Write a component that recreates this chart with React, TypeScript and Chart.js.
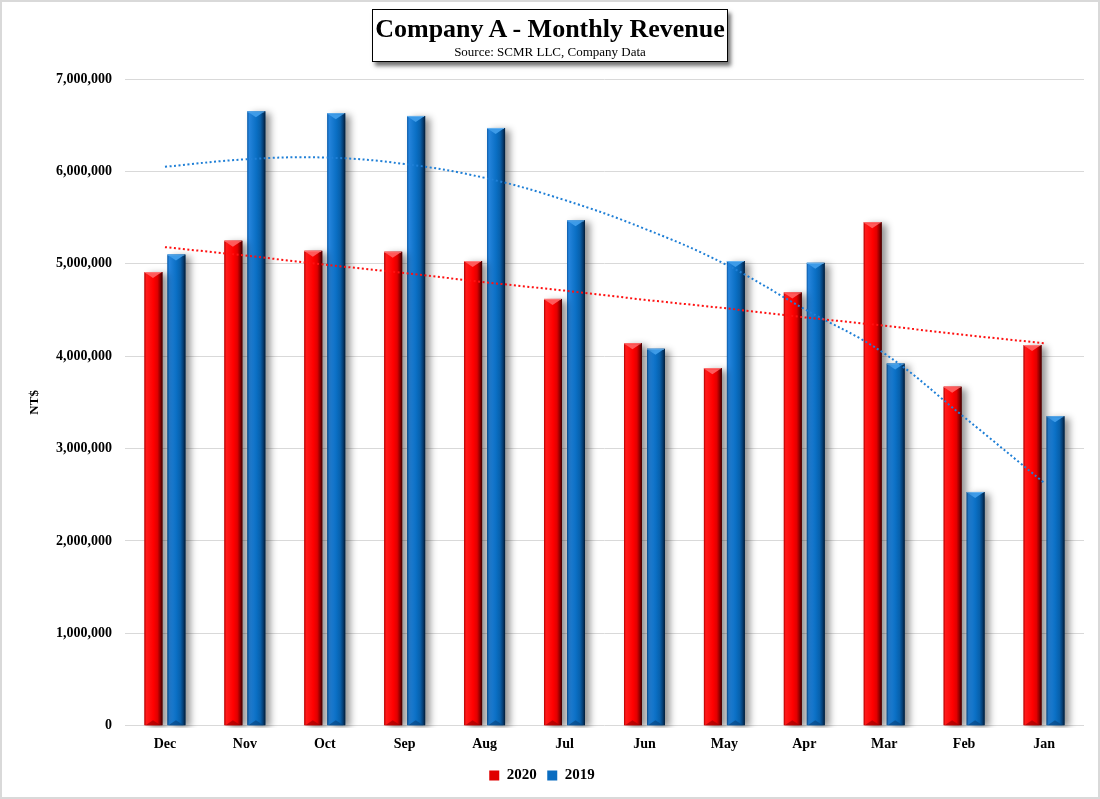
import React, { useEffect, useRef } from "react";
import { Chart, registerables } from "chart.js";

Chart.register(...registerables);

const months = ["Dec", "Nov", "Oct", "Sep", "Aug", "Jul", "Jun", "May", "Apr", "Mar", "Feb", "Jan"];
const rev2020 = [4910000, 5250000, 5140000, 5130000, 5030000, 4620000, 4140000, 3870000, 4690000, 5450000, 3670000, 4120000];
const rev2019 = [5100000, 6650000, 6630000, 6600000, 6470000, 5470000, 4080000, 5030000, 5010000, 3920000, 2530000, 3350000];
const trend2020 = [5180000, 5090000, 4990000, 4900000, 4800000, 4710000, 4610000, 4520000, 4420000, 4330000, 4230000, 4140000];
const trend2019 = [6050000, 6130000, 6150000, 6080000, 5930000, 5690000, 5380000, 5000000, 4510000, 4030000, 3340000, 2630000];
const yTicks = [0, 1000000, 2000000, 3000000, 4000000, 5000000, 6000000, 7000000];

const FONT = "'Liberation Serif', 'Times New Roman', serif";

const palettes: any[] = [
  {
    stops: [[0, "#b00000"], [0.1, "#ff1a1a"], [0.5, "#ff0000"], [0.72, "#e00000"], [0.88, "#8c0000"], [1, "#3a0000"]],
    cap: "#ff5a5a",
    capLine: "#ff8080",
    base: "#900000",
  },
  {
    stops: [[0, "#0b5aa8"], [0.1, "#2584dc"], [0.5, "#0a6fc4"], [0.72, "#0860ab"], [0.88, "#053d72"], [1, "#021b36"]],
    cap: "#3d9be8",
    capLine: "#6ab4f0",
    base: "#073f78",
  },
];

const barDecor = {
  id: "barDecor",
  afterDatasetDraw(chart: any, args: any) {
    const meta = args.meta;
    if (meta.type !== "bar") return;
    const pal = palettes[args.index];
    if (!pal) return;
    const ctx = chart.ctx;
    const area = chart.chartArea;
    ctx.save();
    ctx.beginPath();
    ctx.rect(area.left, area.top - 2, area.right - area.left + 20, area.bottom - area.top + 4);
    ctx.clip();
    meta.data.forEach((el: any) => {
      const { x, y, base, width } = el.getProps(["x", "y", "base", "width"], true);
      const left = x - width / 2;
      const right = x + width / 2;
      const h = base - y;
      const g = ctx.createLinearGradient(left, 0, right, 0);
      pal.stops.forEach((s: any) => g.addColorStop(s[0], s[1]));
      ctx.save();
      ctx.shadowColor = "rgba(0,0,0,0.42)";
      ctx.shadowBlur = 7;
      ctx.shadowOffsetX = 5;
      ctx.shadowOffsetY = 2;
      ctx.fillStyle = g;
      ctx.fillRect(left, y, width, h);
      ctx.restore();
      // top cap triangle
      ctx.fillStyle = pal.cap;
      ctx.beginPath();
      ctx.moveTo(left + 1, y + 1);
      ctx.lineTo(right - 2, y + 1);
      ctx.lineTo(x - 0.5, y + 6);
      ctx.closePath();
      ctx.fill();
      ctx.fillStyle = pal.capLine;
      ctx.fillRect(left, y, width - 1, 1);
      // bottom bevel
      ctx.fillStyle = pal.base;
      ctx.globalAlpha = 0.6;
      ctx.beginPath();
      ctx.moveTo(left + 1, base);
      ctx.lineTo(right - 2, base);
      ctx.lineTo(x - 0.5, base - 5);
      ctx.closePath();
      ctx.fill();
      ctx.globalAlpha = 1;
    });
    ctx.restore();
  },
};

export default function App() {
  const ref = useRef<HTMLCanvasElement | null>(null);

  useEffect(() => {
    if (!ref.current) return;
    const chart = new Chart(ref.current, {
      type: "bar",
      data: {
        labels: months,
        datasets: [
          {
            type: "bar",
            label: "2020",
            data: rev2020,
            backgroundColor: "#e00000",
            borderWidth: 0,
            order: 2,
          } as any,
          {
            type: "bar",
            label: "2019",
            data: rev2019,
            backgroundColor: "#0a6cc0",
            borderWidth: 0,
            order: 2,
          } as any,
          {
            type: "line",
            label: "Trend 2020",
            data: trend2020,
            borderColor: "#ff1010",
            borderWidth: 2,
            borderDash: [2, 2.5],
            pointRadius: 0,
            tension: 0,
            fill: false,
            order: 1,
          } as any,
          {
            type: "line",
            label: "Trend 2019",
            data: trend2019,
            borderColor: "#1f7fd6",
            borderWidth: 2,
            borderDash: [2, 2.5],
            pointRadius: 0,
            tension: 0.4,
            fill: false,
            order: 1,
          } as any,
        ],
      },
      options: {
        responsive: false,
        animation: false,
        events: [],
        layout: { padding: { top: 79, right: 16, bottom: 6, left: 0 } },
        datasets: {
          bar: { categoryPercentage: 0.575, barPercentage: 0.78 },
        } as any,
        plugins: {
          tooltip: { enabled: false },
          title: { display: false },
          legend: {
            position: "bottom",
            labels: {
              boxWidth: 10,
              boxHeight: 10,
              color: "#000",
              padding: 10.5,
              font: { family: FONT, size: 15, weight: "bold" },
              filter: (item: any) => item.datasetIndex < 2,
            },
          },
        },
        scales: {
          x: {
            grid: { display: false, drawTicks: false },
            border: { display: false },
            afterFit: (scale: any) => {
              scale.height = scale.height - 5;
            },
            ticks: {
              color: "#000",
              padding: 10,
              font: { family: FONT, size: 14, weight: "bold" },
            },
          },
          y: {
            min: 0,
            max: 7000000,
            afterBuildTicks: (scale: any) => {
              scale.ticks = yTicks.map((v) => ({ value: v }));
            },
            afterFit: (scale: any) => {
              scale.width = 125;
            },
            grid: { color: "#d9d9d9", lineWidth: 1, drawTicks: false },
            border: { display: false },
            ticks: {
              color: "#000",
              padding: 13,
              font: { family: FONT, size: 14, weight: "bold" },
              callback: (v: any) => Number(v).toLocaleString("en-US"),
            },
            title: {
              display: true,
              text: "NT$",
              color: "#000",
              padding: { top: 27, bottom: 0 },
              font: { family: FONT, size: 13, weight: "bold" },
            },
          },
        },
      },
      plugins: [barDecor],
    } as any);
    return () => chart.destroy();
  }, []);

  return (
    <div style={{ position: "absolute", left: 0, top: 0, width: 1100, height: 799, background: "#fff" }}>
      <canvas ref={ref} width={1100} height={799} style={{ display: "block" }} />
      <div
        style={{
          position: "absolute",
          left: 372,
          top: 9,
          width: 356,
          height: 53,
          boxSizing: "border-box",
          border: "1.5px solid #000",
          background: "#fff",
          boxShadow: "3px 4px 4px rgba(0,0,0,0.55)",
          fontFamily: FONT,
          textAlign: "center",
          color: "#000",
        }}
      >
        <div style={{ fontSize: 26, fontWeight: "bold", lineHeight: "28px", marginTop: 5 }}>
          Company A - Monthly Revenue
        </div>
        <div style={{ fontSize: 13, lineHeight: "15px", marginTop: 1 }}>Source: SCMR LLC, Company Data</div>
      </div>
      <div
        style={{
          position: "absolute",
          left: 0,
          top: 0,
          width: 1100,
          height: 799,
          boxSizing: "border-box",
          border: "2px solid #d9d9d9",
          pointerEvents: "none",
        }}
      />
    </div>
  );
}
